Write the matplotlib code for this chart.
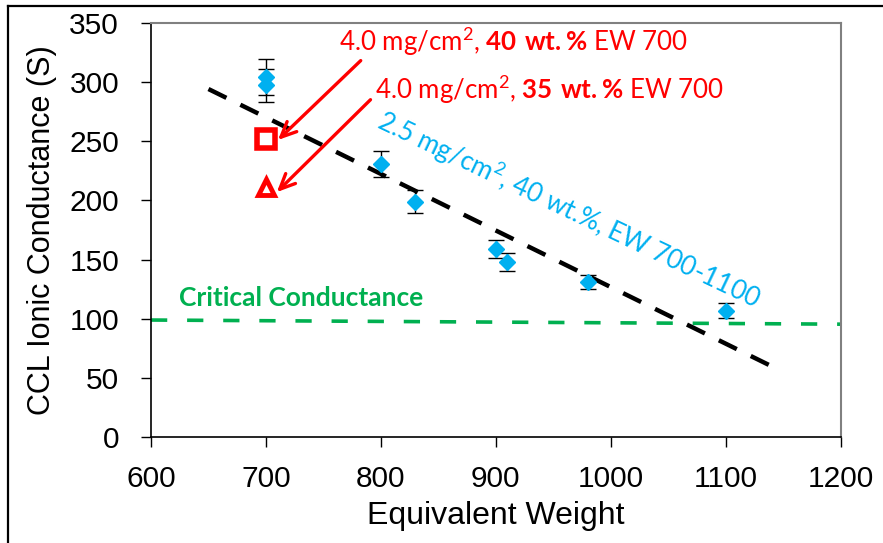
import matplotlib
matplotlib.use("Agg")
import matplotlib.pyplot as plt
from matplotlib.lines import Line2D

# ---- data ----
ew = [700, 700, 800, 830, 900, 910, 980, 1100]
conductance = [304, 297, 231, 199, 159, 148, 131, 107]
cond_err = [15, 14, 11, 10, 7.5, 7.5, 6, 6]

sq_x, sq_y = [700], [252]          # 4.0 mg/cm2, 40 wt.%
tri_x, tri_y = [700], [211]        # 4.0 mg/cm2, 35 wt.%

trend_x = [650, 1140]
trend_y = [294, 60]

crit_x = [600, 1200]
crit_y = [99, 95.5]

xticks = [600, 700, 800, 900, 1000, 1100, 1200]
yticks = [0, 50, 100, 150, 200, 250, 300, 350]

W, H = 883, 543
plt.rcParams['mathtext.fontset'] = 'custom'
plt.rcParams['mathtext.rm'] = 'Lato'
plt.rcParams['mathtext.bf'] = 'Lato:bold'
plt.rcParams['mathtext.default'] = 'regular'

fig = plt.figure(figsize=(W / 100, H / 100), dpi=100)
ax = fig.add_axes([151 / W, 1 - 437.3 / H, (840.5 - 151) / W, (437.3 - 22.7) / H])

blue = '#00B0F0'
red = '#FF0000'
green = '#00B050'

# critical line
ax.plot(crit_x, crit_y, color=green, lw=2.6, dashes=(4.5, 5.5), zorder=2)
# trend line
ax.plot(trend_x, trend_y, color='black', lw=3.2, dashes=(4.5, 3.5), zorder=2,
        solid_capstyle='butt')

# data with error bars
ax.errorbar(ew, conductance, yerr=cond_err, fmt='D', color=blue, ms=8.6,
            mec=blue, ecolor='black', elinewidth=1.0, capsize=5.6, capthick=1.0,
            zorder=4)

ax.plot(sq_x, sq_y, 's', ms=13, mfc='white', mec=red, mew=4, zorder=5)
ax.plot(tri_x, tri_y, '^', ms=11, mfc='white', mec=red, mew=3.5, zorder=5)

# arrows
ax.annotate('', xy=(710.5, 251), xytext=(782.5, 318),
            arrowprops=dict(arrowstyle='->,head_length=1.1,head_width=0.5',
                            color=red, lw=2.4, shrinkA=0, shrinkB=0))
ax.annotate('', xy=(709.5, 207), xytext=(791, 285),
            arrowprops=dict(arrowstyle='->,head_length=1.1,head_width=0.5',
                            color=red, lw=2.4, shrinkA=0, shrinkB=0))

# annotations
txt_kw = dict(color=red, fontsize=18.6, family='Lato', va='center', ha='left')
fig.text(339 / W, 1 - 41.7 / H, r'4.0 mg/cm$^2$, $\mathbf{40\ wt.\%}$ EW 700', **txt_kw)
fig.text(375 / W, 1 - 90 / H, r'4.0 mg/cm$^2$, $\mathbf{35\ wt.\%}$ EW 700', **txt_kw)

fig.text(569 / W, 1 - 210 / H, r'2.5 mg/cm$^2$, 40 wt.%, EW 700-1100',
         color=blue, fontsize=18.8, family='Lato', rotation=-25.5,
         rotation_mode='anchor', ha='center', va='center')

fig.text(301.5 / W, 1 - 298 / H, 'Critical Conductance', color=green,
         fontsize=19, family='Lato', fontweight='bold', ha='center', va='center')

# axes styling
ax.set_xlim(600, 1200)
ax.set_ylim(0, 350)
ax.set_xticks(xticks)
ax.set_yticks(yticks)
ax.tick_params(direction='out', length=7, width=1, labelsize=21.5,
               colors='black')
ax.tick_params(axis='x', pad=13)
ax.tick_params(axis='y', pad=16)
for lab in ax.get_xticklabels() + ax.get_yticklabels():
    lab.set_family('Liberation Sans')
for s in ['top', 'right']:
    ax.spines[s].set_color('#808080')
    ax.spines[s].set_linewidth(1.5)
for s in ['left', 'bottom']:
    ax.spines[s].set_color('black')
    ax.spines[s].set_linewidth(1.2)

ax.set_xlabel('Equivalent Weight', fontsize=23, family='Liberation Sans', labelpad=6)
ax.set_ylabel('CCL Ionic Conductance (S)', fontsize=22, family='Liberation Sans', labelpad=9)

# figure frame (top and left edges visible)
fig.add_artist(Line2D([8 / W, 1], [1 - 5.7 / H, 1 - 5.7 / H], color='black', lw=1.6))
fig.add_artist(Line2D([8 / W, 8 / W], [0, 1 - 5.7 / H], color='black', lw=1.6))

fig.savefig('out.png', dpi=100)
